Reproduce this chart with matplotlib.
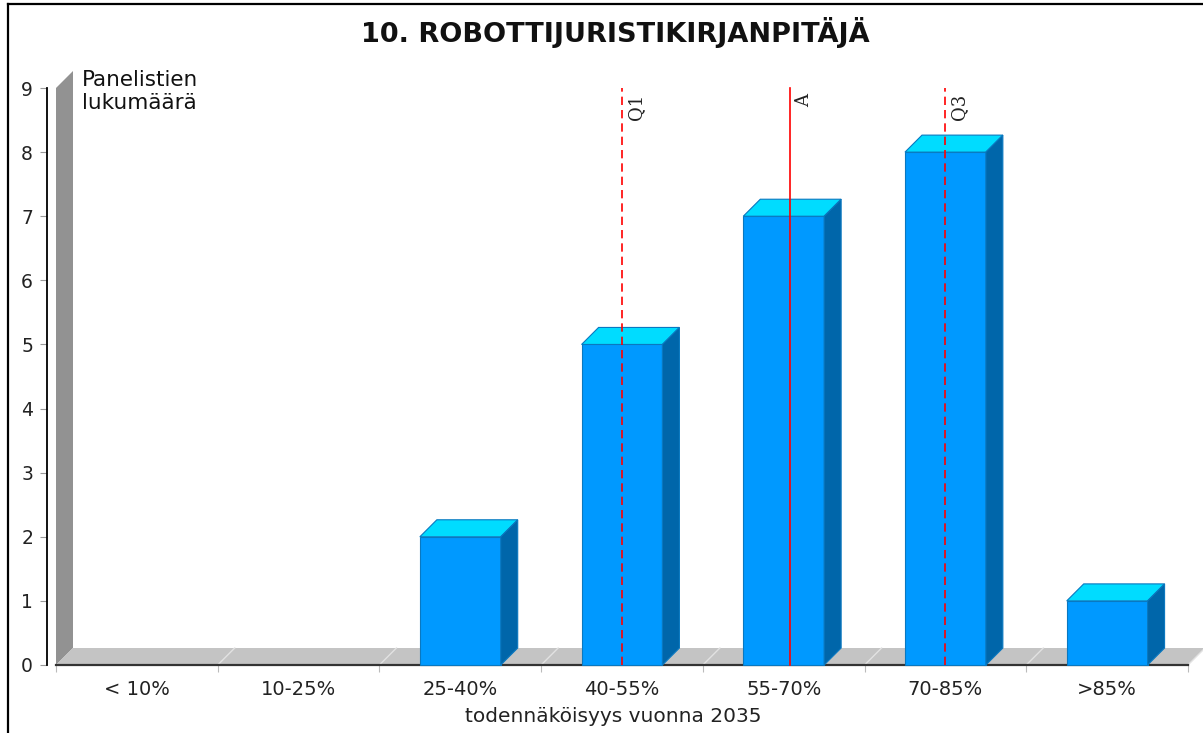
import matplotlib.pyplot as plt
from matplotlib.patches import Polygon
from matplotlib.lines import Line2D
import numpy as np

categories = ['< 10%', '10-25%', '25-40%', '40-55%', '55-70%', '70-85%', '>85%']
counts = [0, 0, 2, 5, 7, 8, 1]
markers = [('Q1', 3.0, '--'), ('A', 4.04, '-'), ('Q3', 5.0, '--')]
yticks = list(range(10))

W, H = 1203, 733
fig = plt.figure(figsize=(W / 100, H / 100), dpi=100)
ax = fig.add_axes([56 / W, (H - 665) / H, 1132 / W, 577 / H])
ax.set_xlim(-0.5, len(categories) - 0.5)
ax.set_ylim(0, 9)

# 3d depth offset (17 px) in data units
dx = 17 / (1132 / len(categories))
dy = 17 / (577 / 9)

x0, x1 = -0.5, len(categories) - 0.5
# back wall and floor
ax.add_patch(Polygon([(x0, 0), (x0, 9), (x0 + dx, 9 + dy), (x0 + dx, dy)],
                     closed=True, fc='#929292', ec='none', clip_on=False, zorder=1))
ax.add_patch(Polygon([(x0, 0), (x1, 0), (x1 + dx, dy), (x0 + dx, dy)],
                     closed=True, fc='#c4c4c4', ec='none', clip_on=False, zorder=1))
for b in range(1, len(categories) + 1):
    ax.plot([x0 + b, x0 + b + dx], [0, dy], color='#e2e2e2', lw=1,
            clip_on=False, zorder=1.5)

# bars
bw = 0.5
for i, v in enumerate(counts):
    if v == 0:
        continue
    l, r = i - bw / 2, i + bw / 2
    ec = '#0a78c0'
    ax.add_patch(Polygon([(l, 0), (r, 0), (r, v), (l, v)], closed=True,
                         fc='#0099ff', ec=ec, lw=0.8, clip_on=False, zorder=3))
    ax.add_patch(Polygon([(l, v), (r, v), (r + dx, v + dy), (l + dx, v + dy)], closed=True,
                         fc='#00dcff', ec=ec, lw=0.8, clip_on=False, zorder=3))
    ax.add_patch(Polygon([(r, 0), (r + dx, dy), (r + dx, v + dy), (r, v)], closed=True,
                         fc='#0066aa', ec=ec, lw=0.8, clip_on=False, zorder=3))

# marker lines
for name, xv, ls in markers:
    ax.plot([xv, xv], [0, 9], color='#ff0000', lw=1.2, ls=ls,
            dashes=(5, 3) if ls == '--' else (None, None), clip_on=False, zorder=4)
    ax.annotate(name, (xv, 9), xytext=(3.5, -4.5), textcoords='offset points',
                rotation=90, ha='left', va='top', fontsize=13,
                family='DejaVu Serif', color='#222222', zorder=5)

# axes styling
for s in ['top', 'right']:
    ax.spines[s].set_visible(False)
ax.spines['left'].set_position(('outward', 6.5))
ax.spines['left'].set_linewidth(1.3)
ax.spines['bottom'].set_linewidth(1.6)
ax.spines['bottom'].set_color('#333333')
ax.spines['bottom'].set_zorder(2)
ax.set_yticks(yticks)
ax.tick_params(axis='y', length=5, width=0.8, color='#999999', pad=5,
               labelsize=13.5, labelcolor='#222222')
ax.set_xticks(range(len(categories)))
ax.set_xticklabels(categories)
ax.set_xticks(np.arange(-0.5, len(categories)), minor=True)
ax.tick_params(axis='x', which='major', length=0, pad=11, labelsize=14,
               labelcolor='#222222')
ax.tick_params(axis='x', which='minor', length=5, width=0.8, color='#bbbbbb')
ax.set_xlabel('todennäköisyys vuonna 2035', fontsize=14.5, color='#222222')
ax.xaxis.set_label_coords(0.492, -0.072)

fig.text(615 / W, 1 - 32 / H, '10. ROBOTTIJURISTIKIRJANPITÄJÄ', ha='center',
         va='center', fontsize=19.5, fontweight='bold', color='#111111')
fig.text(82 / W, 1 - 70 / H, 'Panelistien\nlukumäärä', ha='left', va='top',
         fontsize=15.5, linespacing=1.2, color='#111111')

# outer border (top and left)
fig.add_artist(Line2D([8 / W, 1], [1 - 4 / H, 1 - 4 / H], color='black', lw=1.6))
fig.add_artist(Line2D([8 / W, 8 / W], [0, 1 - 4 / H], color='black', lw=1.6))

fig.savefig('out.png', dpi=100)
